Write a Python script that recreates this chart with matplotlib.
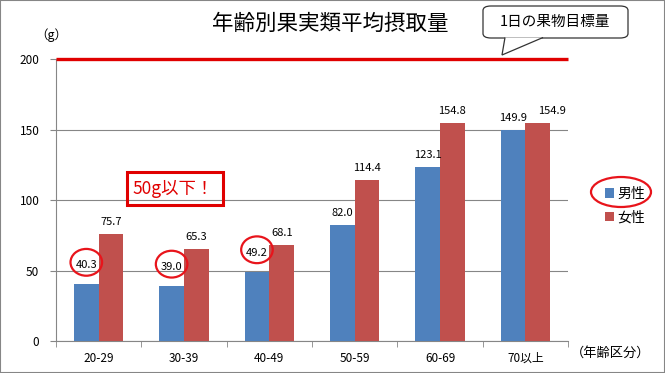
import matplotlib.pyplot as plt
import numpy as np
from matplotlib.patches import Ellipse, FancyBboxPatch, Rectangle, Polygon

plt.rcParams['font.family'] = ['Noto Sans CJK JP', 'DejaVu Sans']

# data
ages = ['20-29', '30-39', '40-49', '50-59', '60-69', '70以上']
male = [40.3, 39.0, 49.2, 82.0, 123.1, 149.9]
female = [75.7, 65.3, 68.1, 114.4, 154.8, 154.9]
target = 200
circled = [0, 1, 2]  # 男性 labels circled in red

blue = '#4F81BD'
red = '#C0504D'

fig = plt.figure(figsize=(6.65, 3.73), dpi=100)
ax = fig.add_axes([56/665, 1-341/373, 512/665, 282/373])

x = np.arange(len(ages))
w = 0.29
ax.bar(x - w/2, male, w, color=blue, label='男性', zorder=3)
ax.bar(x + w/2, female, w, color=red, label='女性', zorder=3)

for i in range(len(ages)):
    off = 10 if i in circled else 5
    ax.annotate(f'{male[i]:.1f}', (x[i] - w/2, male[i]), xytext=(0, off),
                textcoords='offset points', ha='center', va='bottom', fontsize=8)
    # last female label was nudged right in the original
    dx = 10 if i == len(ages) - 1 else 0
    ax.annotate(f'{female[i]:.1f}', (x[i] + w/2, female[i]), xytext=(dx, 5),
                textcoords='offset points', ha='center', va='bottom', fontsize=8)

for i in circled:
    ax.add_patch(Ellipse((x[i] - w/2, male[i] + 15.5), 0.37, 19, fill=False,
                         edgecolor='#E8141B', lw=1.6, zorder=5, clip_on=False))

# target line
ax.plot([-0.5, len(ages) - 0.5], [target, target], color='#E00000', lw=2.4,
        zorder=4, clip_on=False, solid_capstyle='butt')

ax.set_xlim(-0.5, len(ages) - 0.5)
ax.set_ylim(0, 200)
ax.set_yticks([0, 50, 100, 150, 200])
ax.yaxis.grid(True, color='#868686', lw=0.8, zorder=0)
ax.set_xticks(x)
ax.set_xticklabels(ages, fontsize=8.5)
ax.set_xticks(np.arange(-0.5, len(ages)), minor=True)
ax.tick_params(axis='x', which='major', length=0, pad=8)
ax.tick_params(axis='x', which='minor', length=4, color='#868686')
ax.tick_params(axis='y', length=4, color='#868686', labelsize=8.5, pad=8)
for s in ['top', 'right']:
    ax.spines[s].set_visible(False)
ax.spines['left'].set_color('#868686')
ax.spines['bottom'].set_color('#868686')

leg = fig.legend(loc='upper left', bbox_to_anchor=(592/665, 1-174/373), frameon=False,
                 fontsize=10, handlelength=0.7, handleheight=0.7, handletextpad=0.2,
                 labelspacing=0.7)

# texts
fig.text(330/665, 1-24/373, '年齢別果実類平均摂取量', ha='center', va='center', fontsize=15.5)
fig.text(51/665, 1-35/373, '（g）', ha='center', va='center', fontsize=9)
fig.text(611/665, 1-353/373, '（年齢区分）', ha='center', va='center', fontsize=9.5)

# callout
box = FancyBboxPatch((483/665, 1-38/373), 145/665, 32/373,
                     boxstyle='round,pad=0,rounding_size=0.012', transform=fig.transFigure,
                     facecolor='white', edgecolor='#333333', lw=0.9, zorder=6)
fig.patches.append(box)
tail = Polygon([(505/665, 1-37.5/373), (502/665, 1-55/373), (543/665, 1-37.5/373)],
               closed=False, transform=fig.transFigure, facecolor='white',
               edgecolor='#333333', lw=0.9, zorder=7)
fig.patches.append(tail)
fig.text(555/665, 1-22/373, '1日の果物目標量', ha='center', va='center', fontsize=10.5, zorder=8)

# red box
fig.patches.append(Rectangle((127/665, 1-205/373), 96/665, 33/373, transform=fig.transFigure,
                             fill=False, edgecolor='#E00000', lw=2.2))
fig.text(173/665, 1-189/373, '50g以下！', ha='center', va='center', fontsize=12.5,
         color='#E00000')

# legend ellipse
fig.patches.append(Ellipse((621/665, 1-192/373), 60/665, 30/373, transform=fig.transFigure,
                           fill=False, edgecolor='#E8141B', lw=1.6))

# figure border
fig.patches.append(Rectangle((0, 0), 1, 1, transform=fig.transFigure, fill=False,
                             edgecolor='#868686', lw=1.5))

fig.savefig('out.png', dpi=100)
